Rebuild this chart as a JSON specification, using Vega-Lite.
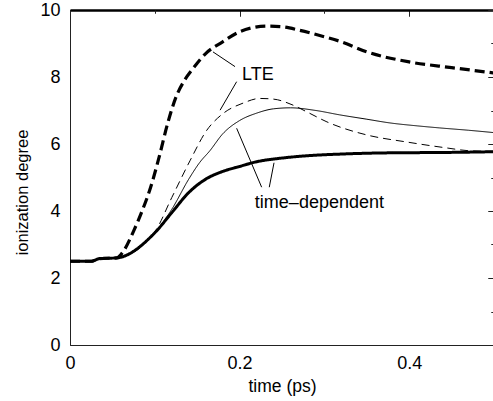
{
  "$schema": "https://vega.github.io/schema/vega-lite/v6.json",
  "width": 424,
  "height": 335,
  "autosize": {"type": "none"},
  "padding": {"left": 70, "top": 10, "right": 0, "bottom": 56},
  "background": "white",
  "config": {
    "view": {"stroke": "#222", "strokeWidth": 1},
    "axis": {
      "labelFont": "Liberation Sans",
      "titleFont": "Liberation Sans",
      "labelFontSize": 18,
      "titleFontSize": 18,
      "labelColor": "#000",
      "titleColor": "#000",
      "titleFontWeight": "normal",
      "domainColor": "#222",
      "tickColor": "#222",
      "domainWidth": 1,
      "tickWidth": 1,
      "grid": false
    }
  },
  "datasets": {
    "curves": [
      {"series": "lte_thick", "t": 0, "v": 2.5},
      {"series": "lte_thick", "t": 0.025, "v": 2.5},
      {"series": "lte_thick", "t": 0.035, "v": 2.58},
      {"series": "lte_thick", "t": 0.055, "v": 2.6},
      {"series": "lte_thick", "t": 0.063, "v": 2.8},
      {"series": "lte_thick", "t": 0.075, "v": 3.4},
      {"series": "lte_thick", "t": 0.085, "v": 4.0},
      {"series": "lte_thick", "t": 0.095, "v": 4.7},
      {"series": "lte_thick", "t": 0.105, "v": 5.6},
      {"series": "lte_thick", "t": 0.115, "v": 6.6},
      {"series": "lte_thick", "t": 0.125, "v": 7.4},
      {"series": "lte_thick", "t": 0.135, "v": 7.9},
      {"series": "lte_thick", "t": 0.145, "v": 8.25},
      {"series": "lte_thick", "t": 0.16, "v": 8.7},
      {"series": "lte_thick", "t": 0.18, "v": 9.05},
      {"series": "lte_thick", "t": 0.2, "v": 9.35},
      {"series": "lte_thick", "t": 0.215, "v": 9.47},
      {"series": "lte_thick", "t": 0.232, "v": 9.52},
      {"series": "lte_thick", "t": 0.25, "v": 9.5},
      {"series": "lte_thick", "t": 0.27, "v": 9.4},
      {"series": "lte_thick", "t": 0.3, "v": 9.2},
      {"series": "lte_thick", "t": 0.32, "v": 9.05},
      {"series": "lte_thick", "t": 0.35, "v": 8.75},
      {"series": "lte_thick", "t": 0.4, "v": 8.45},
      {"series": "lte_thick", "t": 0.45, "v": 8.28},
      {"series": "lte_thick", "t": 0.5, "v": 8.12},

      {"series": "lte_thin", "t": 0, "v": 2.5},
      {"series": "lte_thin", "t": 0.025, "v": 2.5},
      {"series": "lte_thin", "t": 0.035, "v": 2.58},
      {"series": "lte_thin", "t": 0.055, "v": 2.6},
      {"series": "lte_thin", "t": 0.1, "v": 3.38},
      {"series": "lte_thin", "t": 0.12, "v": 4.4},
      {"series": "lte_thin", "t": 0.1415, "v": 5.5},
      {"series": "lte_thin", "t": 0.161, "v": 6.4},
      {"series": "lte_thin", "t": 0.18, "v": 6.9},
      {"series": "lte_thin", "t": 0.204, "v": 7.22},
      {"series": "lte_thin", "t": 0.224, "v": 7.36},
      {"series": "lte_thin", "t": 0.24, "v": 7.34},
      {"series": "lte_thin", "t": 0.263, "v": 7.16},
      {"series": "lte_thin", "t": 0.28, "v": 6.95},
      {"series": "lte_thin", "t": 0.303, "v": 6.66},
      {"series": "lte_thin", "t": 0.35, "v": 6.27},
      {"series": "lte_thin", "t": 0.397, "v": 6.06},
      {"series": "lte_thin", "t": 0.445, "v": 5.88},
      {"series": "lte_thin", "t": 0.47, "v": 5.8},
      {"series": "lte_thin", "t": 0.5, "v": 5.78},

      {"series": "td_thin", "t": 0, "v": 2.5},
      {"series": "td_thin", "t": 0.025, "v": 2.5},
      {"series": "td_thin", "t": 0.035, "v": 2.58},
      {"series": "td_thin", "t": 0.055, "v": 2.6},
      {"series": "td_thin", "t": 0.1, "v": 3.36},
      {"series": "td_thin", "t": 0.12, "v": 4.05},
      {"series": "td_thin", "t": 0.14, "v": 4.95},
      {"series": "td_thin", "t": 0.153, "v": 5.45},
      {"series": "td_thin", "t": 0.165, "v": 5.8},
      {"series": "td_thin", "t": 0.18, "v": 6.3},
      {"series": "td_thin", "t": 0.2, "v": 6.7},
      {"series": "td_thin", "t": 0.22, "v": 6.92},
      {"series": "td_thin", "t": 0.24, "v": 7.05},
      {"series": "td_thin", "t": 0.26, "v": 7.08},
      {"series": "td_thin", "t": 0.29, "v": 7.0},
      {"series": "td_thin", "t": 0.318, "v": 6.87},
      {"series": "td_thin", "t": 0.35, "v": 6.74},
      {"series": "td_thin", "t": 0.377, "v": 6.63},
      {"series": "td_thin", "t": 0.41, "v": 6.54},
      {"series": "td_thin", "t": 0.436, "v": 6.48},
      {"series": "td_thin", "t": 0.47, "v": 6.41},
      {"series": "td_thin", "t": 0.5, "v": 6.34},

      {"series": "td_thick", "t": 0, "v": 2.5},
      {"series": "td_thick", "t": 0.025, "v": 2.5},
      {"series": "td_thick", "t": 0.035, "v": 2.58},
      {"series": "td_thick", "t": 0.055, "v": 2.6},
      {"series": "td_thick", "t": 0.1, "v": 3.35},
      {"series": "td_thick", "t": 0.12, "v": 3.95},
      {"series": "td_thick", "t": 0.14, "v": 4.55},
      {"series": "td_thick", "t": 0.16, "v": 4.95},
      {"series": "td_thick", "t": 0.18, "v": 5.18},
      {"series": "td_thick", "t": 0.2, "v": 5.33},
      {"series": "td_thick", "t": 0.22, "v": 5.47},
      {"series": "td_thick", "t": 0.25, "v": 5.58},
      {"series": "td_thick", "t": 0.28, "v": 5.65},
      {"series": "td_thick", "t": 0.32, "v": 5.7},
      {"series": "td_thick", "t": 0.36, "v": 5.73},
      {"series": "td_thick", "t": 0.4, "v": 5.74},
      {"series": "td_thick", "t": 0.45, "v": 5.75},
      {"series": "td_thick", "t": 0.5, "v": 5.77}
    ],
    "pointers": [
      {"t1": 0.1686, "v1": 8.75, "t2": 0.1946, "v2": 8.31},
      {"t1": 0.1965, "v1": 7.86, "t2": 0.177, "v2": 7.01},
      {"t1": 0.1965, "v1": 6.47, "t2": 0.226, "v2": 4.71},
      {"t1": 0.2406, "v1": 5.44, "t2": 0.235, "v2": 4.71}
    ],
    "labels": [
      {"t": 0.2028, "v": 7.91, "text": "LTE"},
      {"t": 0.218, "v": 4.09, "text": "time–dependent"}
    ]
  },
  "layer": [
    {
      "data": {"name": "curves"},
      "mark": {"type": "line", "interpolate": "monotone", "color": "black"},
      "encoding": {
        "x": {"field": "t", "type": "quantitative", "scale": {"domain": [0, 0.5], "nice": false},
          "axis": {"values": [0, 0.2, 0.4], "ticks": false, "labelPadding": 9, "labelFlush": false, "title": "time (ps)", "titleBaseline": "alphabetic", "titleY": 46, "titleFontSize": 17.5, "format": "~g"}},
        "y": {"field": "v", "type": "quantitative", "scale": {"domain": [0, 10], "nice": false},
          "axis": {"values": [0, 2, 4, 6, 8, 10], "ticks": false, "labelPadding": 10, "labelFlush": false, "title": "ionization degree", "titleX": -40, "titleY": 182, "titleFontSize": 16.5}},
        "strokeWidth": {"field": "series", "type": "nominal", "scale": {"type": "ordinal", "domain": ["lte_thick", "lte_thin", "td_thin", "td_thick"], "range": [3.2, 1, 1, 3]}, "legend": null},
        "strokeDash": {"field": "series", "type": "nominal", "scale": {"type": "ordinal", "domain": ["lte_thick", "lte_thin", "td_thin", "td_thick"], "range": [[10, 5], [8, 5], [1, 0], [1, 0]]}, "legend": null}
      }
    },
    {
      "data": {"name": "curves"},
      "mark": {"type": "point", "opacity": 0},
      "encoding": {
        "x": {"field": "t", "type": "quantitative", "axis": {"values": [0, 0.2, 0.4], "tickSize": -6, "labels": false, "title": null, "domain": false}},
        "y": {"field": "v", "type": "quantitative", "axis": {"values": [0, 2, 4, 6, 8, 10], "tickSize": -6, "labels": false, "title": null, "domain": false}}
      }
    },
    {
      "data": {"name": "curves"},
      "mark": {"type": "point", "opacity": 0},
      "encoding": {
        "x": {"field": "t", "type": "quantitative", "axis": {"values": [0.1, 0.3, 0.5], "tickSize": -3, "labels": false, "title": null, "domain": false}},
        "y": {"field": "v", "type": "quantitative", "axis": {"values": [1, 3, 5, 7, 9], "tickSize": -3, "labels": false, "title": null, "domain": false}}
      }
    },
    {
      "data": {"name": "curves"},
      "mark": {"type": "point", "opacity": 0},
      "encoding": {
        "x": {"field": "t", "type": "quantitative", "axis": {"orient": "top", "values": [0, 0.2, 0.4], "tickSize": -6, "labels": false, "title": null, "domain": true, "domainColor": "#000", "domainWidth": 2.5}},
        "y": {"field": "v", "type": "quantitative", "axis": {"orient": "right", "values": [0, 2, 4, 6, 8, 10], "tickSize": -6, "labels": false, "title": null, "domain": true, "domainColor": "#000"}}
      }
    },
    {
      "data": {"name": "curves"},
      "mark": {"type": "point", "opacity": 0},
      "encoding": {
        "x": {"field": "t", "type": "quantitative", "axis": {"orient": "top", "values": [0.1, 0.3, 0.5], "tickSize": -3, "labels": false, "title": null, "domain": false}},
        "y": {"field": "v", "type": "quantitative", "axis": {"orient": "right", "values": [1, 3, 5, 7, 9], "tickSize": -3, "labels": false, "title": null, "domain": false}}
      }
    },
    {
      "data": {"name": "pointers"},
      "mark": {"type": "rule", "color": "black", "strokeWidth": 1},
      "encoding": {
        "x": {"field": "t1", "type": "quantitative", "axis": null},
        "y": {"field": "v1", "type": "quantitative", "axis": null},
        "x2": {"field": "t2"},
        "y2": {"field": "v2"}
      }
    },
    {
      "data": {"name": "labels"},
      "mark": {"type": "text", "align": "left", "baseline": "alphabetic", "font": "Liberation Sans", "fontSize": 18, "color": "black"},
      "encoding": {
        "x": {"field": "t", "type": "quantitative", "axis": null},
        "y": {"field": "v", "type": "quantitative", "axis": null},
        "text": {"field": "text"}
      }
    }
  ],
  "resolve": {"axis": {"x": "independent", "y": "independent"}}
}
